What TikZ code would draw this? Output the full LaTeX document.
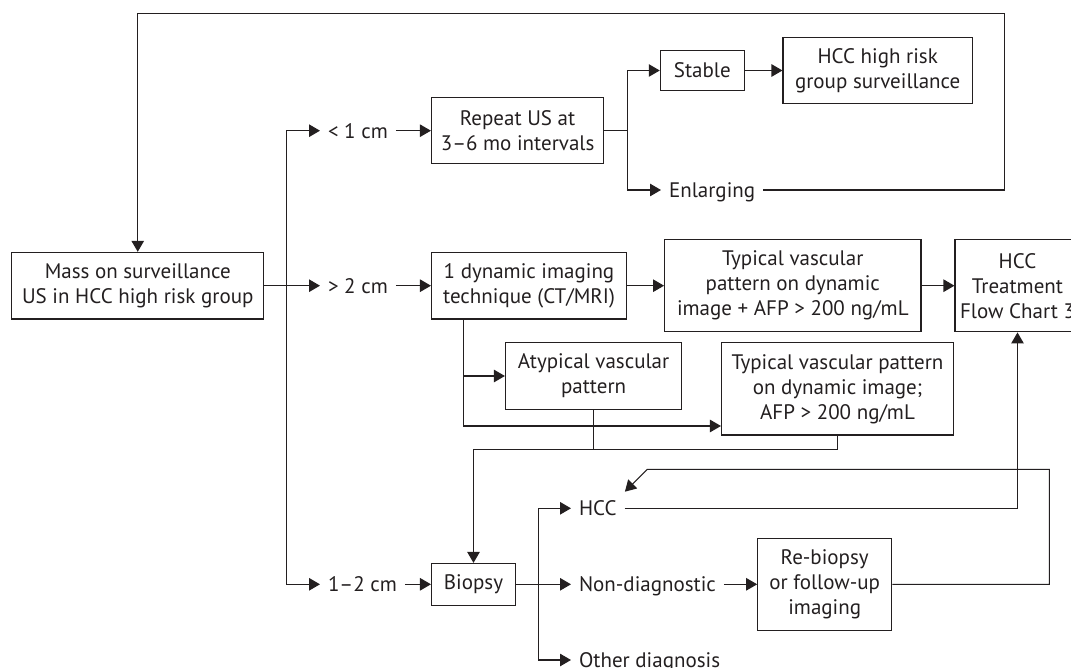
\documentclass[tikz,border=0pt]{standalone}
\usepackage{fontspec}
\setmainfont{PT Sans}
\usetikzlibrary{arrows.meta,calc}
\definecolor{ink}{RGB}{35,31,32}
\begin{document}
\begin{tikzpicture}[x=1pt,y=-1pt,
  color=ink, line width=1.1pt,
  txt/.style={font=\fontsize{21}{25}\selectfont},
  box/.style={txt, draw, line width=1.1pt, align=center, inner sep=0pt},
  lbl/.style={txt, anchor=west, inner xsep=7.5pt, inner ysep=0pt, text height=15pt, text depth=0pt},
  arr/.style={-{Triangle[length=11pt,width=12.5pt]}}
]
\clip (0,0) rectangle (1071,668);
% boxes
\node[box, minimum width=252pt, minimum height=66.7pt] (mass) at (137.75,285.7) {Mass on surveillance\\US in HCC high risk group};
\node[box, minimum width=172.3pt, minimum height=66pt] (repeat) at (517.6,130.7) {Repeat US at\\3–6 mo intervals};
\node[box, minimum width=84pt, minimum height=40.7pt] (stable) at (702.3,70.5) {Stable};
\node[box, minimum width=189.4pt, minimum height=66.7pt] (hccsurv) at (877.7,70.5) {HCC high risk\\group surveillance};
\node[box, minimum width=195pt, minimum height=66.7pt] (dyn) at (529,285.7) {1 dynamic imaging\\technique (CT/MRI)};
\node[box, minimum width=256.4pt, minimum height=92.4pt] (typ1) at (792.8,285.7) {Typical vascular\\pattern on dynamic\\image + AFP > 200 ng/mL};
\node[box, minimum width=125pt, minimum height=92.4pt] (flow) at (1017.5,285.7) {HCC\\Treatment\\Flow Chart 3};
\node[box, minimum width=176.3pt, minimum height=66.6pt] (atyp) at (593.6,376) {Atypical vascular\\pattern};
\node[box, minimum width=232pt, minimum height=92.3pt] (typ2) at (837.5,388.8) {Typical vascular pattern\\on dynamic image;\\AFP > 200 ng/mL};
\node[box, minimum width=84pt, minimum height=41.7pt] (biopsy) at (473.5,584.3) {Biopsy};
\node[box, minimum width=134pt, minimum height=91.7pt] (rebiopsy) at (824.7,584.3) {Re-biopsy\\or follow-up\\imaging};
% labels
\node[lbl] (lt1) at (320,130.7) {< 1 cm};
\node[lbl] (gt2) at (320,285.7) {> 2 cm};
\node[lbl] (r12) at (320,584.3) {1–2 cm};
\node[lbl] (enl) at (661,190) {Enlarging};
\node[lbl] (hcc) at (571,508.3) {HCC};
\node[lbl] (nond) at (571,584.3) {Non-diagnostic};
\node[lbl] (other) at (571,660) {Other diagnosis};
% coordinates
\coordinate (tr) at (1004.5,13.3);
\coordinate (b1) at (286.8,285.7);
\coordinate (j1) at (627.7,130.7);
\coordinate (d1) at (463.8,319);
\coordinate (d2) at (463.8,426);
\coordinate (m) at (837.5,449.3);
\coordinate (j2) at (538.6,584.3);
\coordinate (rr) at (1049.3,469.3);
\coordinate (hk) at (647.3,469.3);
\coordinate (ht) at (624.9,491.7);
% connectors
\draw[arr] (enl.east) -| (tr) -| (mass.north);
\draw[arr] (mass.east) -- (gt2.west);
\draw[arr] (b1) |- (lt1.west);
\draw[arr] (b1) |- (r12.west);
\draw[arr] (lt1.east) -- (repeat.west);
\draw[arr] (gt2.east) -- (dyn.west);
\draw[arr] (r12.east) -- (biopsy.west);
\draw (repeat.east) -- (j1);
\draw[arr] (j1) |- (stable.west);
\draw[arr] (j1) |- (enl.west);
\draw[arr] (stable.east) -- (hccsurv.west);
\draw[arr] (dyn.east) -- (typ1.west);
\draw[arr] (typ1.east) -- (flow.west);
\draw[arr] (d1) |- (atyp.west);
\draw[arr] (d1) |- (typ2.west |- d2);
\draw[arr] (typ2.south) -- (m) -| (biopsy.north);
\draw (atyp.south) -- (atyp.south |- m);
\draw (biopsy.east) -- (j2);
\draw[arr] (j2) -- (nond.west);
\draw[arr] (j2) |- (hcc.west);
\draw[arr] (j2) |- (other.west);
\draw[arr] (nond.east) -- (rebiopsy.west);
\draw[arr] (rebiopsy.east) -| (rr) -- (hk) -- (ht);
\draw[arr] (hcc.east) -| (flow.south);
\end{tikzpicture}
\end{document}
